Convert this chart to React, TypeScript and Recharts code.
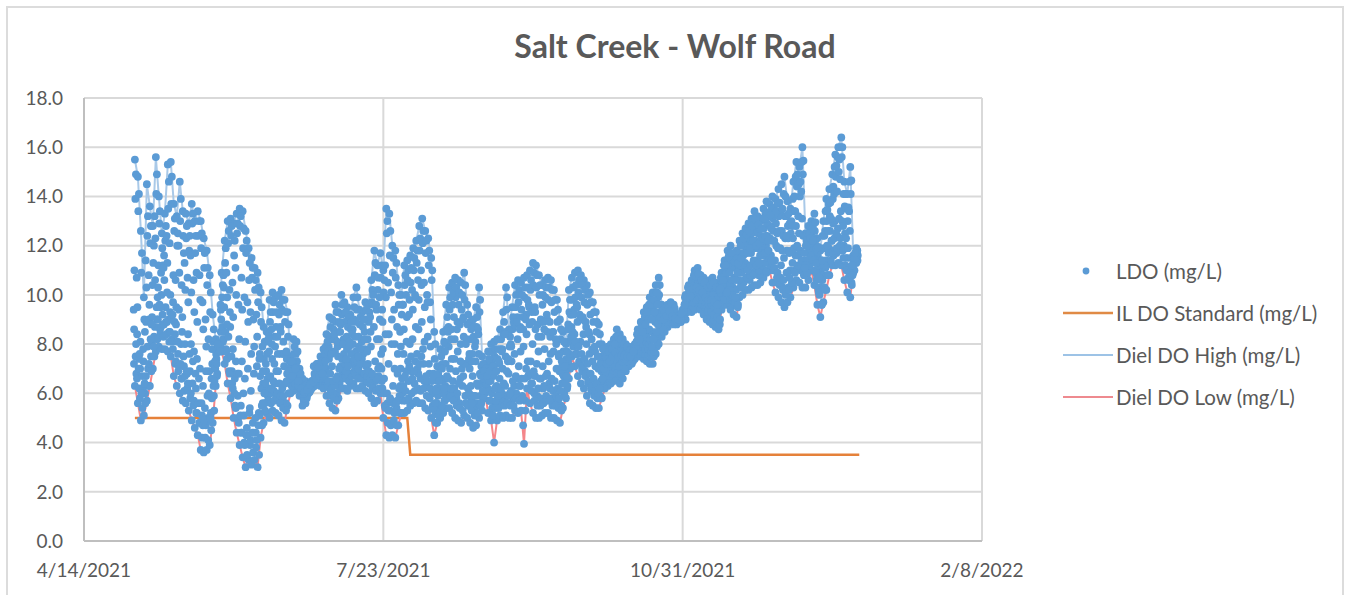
import { ComposedChart, CartesianGrid, Line, Scatter, XAxis, YAxis } from 'recharts'

const TITLE = 'Salt Creek - Wolf Road'
const FONT = 'Lato, sans-serif'
const GREY = '#595959'

// x axis is days since 4/14/2021
const xTicks = [0, 100, 200, 300]
const xLabels = ['4/14/2021', '7/23/2021', '10/31/2021', '2/8/2022']
const yTicks = [0, 2, 4, 6, 8, 10, 12, 14, 16, 18]

const firstDay = 17

const dielHigh = [
  15.5, 14.8, 12.6, 9.9, 14.5, 13.6, 12.8, 15.6, 14.0, 12.5,
  13.3, 15.3, 15.4, 13.7, 13.2, 14.6, 13.4, 13.3, 12.9, 13.7,
  13.0, 13.4, 13.0, 12.3, 11.8, 10.8, 9.2, 8.2, 8.0, 10.9,
  12.2, 13.0, 13.1, 12.9, 13.3, 13.5, 13.4, 12.6, 11.9, 11.5,
  11.1, 10.9, 10.1, 8.7, 8.5, 9.8, 10.1, 9.9, 10.0, 10.2,
  9.8, 9.3, 7.5, 8.2, 8.1, 7.0, 6.6, 6.5, 6.4, 6.5,
  6.8, 7.2, 7.5, 7.8, 8.4, 9.1, 9.0, 9.6, 9.3, 10.0,
  9.7, 9.5, 9.2, 9.9, 10.3, 9.4, 9.3, 9.7, 9.6, 10.6,
  11.8, 11.2, 11.7, 11.0, 13.5, 13.3, 12.0, 11.8, 10.4, 10.0,
  11.2, 11.4, 11.6, 11.9, 12.2, 12.8, 13.1, 12.6, 12.3, 11.5,
  8.5, 7.1, 7.8, 8.5, 9.6, 10.3, 10.5, 10.7, 10.6, 10.5,
  10.9, 9.6, 8.9, 9.0, 9.5, 10.3, 7.5, 7.2, 7.7, 8.0,
  8.1, 8.2, 8.6, 9.3, 10.3, 8.6, 9.5, 10.4, 10.6, 10.5,
  10.7, 10.8, 11.0, 11.3, 11.2, 10.8, 10.4, 10.6, 10.7, 10.6,
  10.2, 9.8, 9.0, 8.5, 8.0, 10.2, 10.7, 10.9, 11.0, 10.8,
  10.6, 10.4, 10.1, 9.7, 9.3, 8.8, 8.0, 7.6, 7.9, 8.0,
  8.2, 8.6, 8.4, 8.2, 8.0, 7.9, 7.8, 8.0, 8.6, 8.9,
  9.3, 9.5, 9.9, 10.1, 10.4, 10.7, 9.6, 9.5, 9.6, 9.7,
  9.6, 9.2, 9.0, 9.4, 10.0, 10.4, 10.6, 11.0, 11.1, 10.8,
  10.7, 10.5, 10.6, 10.7, 10.5, 10.4, 10.9, 11.4, 11.8, 12.0,
  11.6, 11.8, 12.2, 12.5, 12.7, 12.9, 13.1, 13.4, 13.2, 13.0,
  13.5, 13.8, 13.7, 14.0, 13.9, 14.3, 14.5, 14.8, 13.8, 13.5,
  14.6, 15.4, 15.2, 16.0, 12.5, 12.8, 13.0, 13.3, 12.3, 11.8,
  13.0, 13.9, 14.3, 14.9, 15.7, 16.0, 16.4, 14.6, 14.1, 15.2,
  11.6, 11.9,
]

const dielLow = [
  6.3, 5.6, 4.9, 5.1, 5.7, 6.3, 7.0, 7.7, 7.9, 7.8,
  7.8, 7.7, 7.5, 6.7, 6.3, 6.0, 5.7, 5.6, 5.3, 4.9,
  4.6, 4.3, 3.7, 3.6, 3.7, 3.9, 4.8, 6.3, 7.8, 7.7,
  7.2, 6.4, 5.8, 5.0, 4.4, 3.9, 3.4, 3.0, 3.3, 3.1,
  3.3, 3.0, 4.2, 4.8, 5.2, 5.0, 5.3, 5.2, 5.1, 4.9,
  4.8, 5.5, 6.0, 6.1, 6.2, 5.9, 5.5, 5.6, 6.0, 6.2,
  6.3, 6.4, 6.3, 6.2, 5.9, 5.6, 5.4, 5.3, 5.8, 6.2,
  6.2, 6.1, 6.3, 6.4, 6.2, 6.2, 6.3, 6.1, 6.0, 5.8,
  5.6, 5.7, 6.0, 5.0, 4.3, 4.2, 4.3, 4.2, 4.7, 5.2,
  5.2, 5.3, 5.5, 5.6, 5.7, 5.6, 5.6, 5.4, 5.3, 5.0,
  4.3, 4.8, 5.0, 5.2, 5.4, 5.4, 5.2, 5.0, 4.9, 4.8,
  5.1, 5.0, 4.8, 4.6, 4.7, 5.0, 5.3, 6.0, 5.2, 4.9,
  4.0, 4.9, 5.1, 5.0, 5.1, 5.0, 5.0, 5.3, 5.2, 5.3,
  3.95, 6.2, 5.6, 5.2, 5.0, 5.0, 5.1, 5.2, 5.2, 5.0,
  5.0, 4.9, 4.8, 5.4, 5.8, 6.6, 7.5, 7.1, 6.7, 6.4,
  6.2, 5.9, 5.6, 5.5, 5.4, 5.4, 5.8, 6.2, 6.3, 6.4,
  6.5, 6.6, 6.4, 6.6, 6.9, 7.1, 7.2, 7.4, 7.5, 7.5,
  7.4, 7.3, 7.2, 7.2, 7.6, 8.0, 8.3, 8.5, 8.7, 9.0,
  8.8, 8.8, 8.9, 9.1, 9.0, 9.4, 9.3, 9.4, 9.5, 9.4,
  9.2, 9.0, 8.9, 8.8, 8.7, 8.6, 9.4, 9.6, 9.6, 9.4,
  9.2, 9.1, 9.9, 10.0, 10.2, 10.2, 10.3, 10.4, 10.4, 10.5,
  10.7, 10.9, 11.0, 10.5, 10.1, 9.9, 9.7, 9.5, 9.7, 9.9,
  10.3, 10.6, 10.5, 10.3, 10.3, 10.6, 11.0, 10.4, 9.6, 9.1,
  9.7, 10.2, 10.8, 11.2, 11.2, 11.3, 11.2, 10.6, 10.1, 9.9,
  10.9, 11.3,
]

const ldoUpper = [
  13.9, 13.4, 10.9, 9.0, 12.4, 12.1, 11.3, 14.1, 12.9, 11.9,
  12.2, 13.5, 13.7, 12.6, 12.0, 13.0, 12.4, 12.3, 11.8, 12.9,
  11.7, 12.4, 11.9, 11.1, 10.4, 9.3, 8.1, 7.6, 7.9, 9.9,
  11.3, 12.1, 12.4, 11.6, 12.5, 12.8, 11.9, 11.7, 10.6, 10.7,
  10.2, 9.7, 8.9, 7.4, 7.6, 8.9, 9.3, 8.7, 9.2, 9.4,
  8.9, 8.3, 7.1, 7.6, 7.3, 6.6, 6.3, 6.2, 6.2, 6.4,
  6.6, 6.9, 7.1, 7.3, 7.7, 8.3, 8.2, 8.9, 8.5, 9.2,
  8.9, 8.7, 8.6, 9.0, 9.4, 8.8, 8.7, 9.0, 8.9, 9.7,
  10.8, 10.2, 10.7, 10.1, 12.5, 11.6, 10.9, 10.7, 9.6, 9.2,
  10.4, 10.6, 10.5, 11.0, 11.3, 11.8, 12.1, 11.7, 11.2, 10.6,
  7.4, 6.5, 7.1, 7.7, 8.6, 9.4, 9.6, 9.9, 9.6, 9.4,
  9.8, 8.8, 8.2, 8.3, 8.7, 9.3, 6.9, 6.7, 7.1, 7.3,
  7.5, 7.4, 7.8, 8.4, 9.4, 7.9, 8.6, 9.5, 9.7, 9.4,
  9.9, 9.8, 10.2, 10.4, 10.3, 10.0, 9.6, 9.9, 9.8, 9.7,
  9.3, 8.9, 8.2, 7.7, 7.4, 9.3, 9.8, 9.9, 10.1, 9.9,
  9.7, 9.6, 9.2, 8.9, 8.5, 8.0, 7.5, 7.2, 7.4, 7.5,
  7.7, 8.0, 7.9, 7.8, 7.7, 7.6, 7.6, 7.8, 8.2, 8.4,
  8.8, 9.0, 9.3, 9.4, 9.7, 10.0, 9.3, 9.2, 9.3, 9.4,
  9.3, 9.1, 9.0, 9.3, 9.7, 10.0, 10.1, 10.5, 10.6, 10.4,
  10.3, 10.1, 10.2, 10.3, 10.1, 10.0, 10.5, 11.0, 11.3, 11.4,
  11.1, 11.2, 11.7, 12.0, 12.2, 12.3, 12.5, 12.7, 12.5, 12.4,
  12.7, 12.9, 12.8, 13.1, 12.9, 13.2, 12.6, 13.2, 12.8, 12.5,
  13.4, 14.4, 14.0, 14.9, 12.0, 12.2, 12.4, 12.6, 11.6, 11.0,
  11.9, 13.0, 13.2, 13.9, 14.8, 15.0, 15.6, 13.6, 13.0, 14.1,
  11.3, 11.7,
]

const ldoMiddle = [
  11.0, 9.5, 8.1, 7.3, 10.3, 9.6, 10.4, 12.3, 11.2, 10.0,
  10.6, 11.3, 10.0, 10.8, 9.5, 10.9, 9.1, 10.2, 9.7, 10.1,
  9.3, 8.9, 9.8, 8.6, 7.9, 6.9, 7.2, 7.0, 7.9, 9.0,
  9.5, 9.9, 8.7, 9.1, 10.0, 8.2, 9.4, 8.1, 8.9, 7.6,
  7.9, 8.3, 6.7, 6.4, 6.9, 7.7, 7.4, 7.9, 6.9, 7.6,
  7.1, 6.8, 6.7, 7.0, 6.8, 6.4, 6.0, 5.9, 6.1, 6.3,
  6.5, 6.7, 6.8, 6.9, 7.0, 7.4, 7.1, 7.7, 7.5, 8.0,
  7.6, 7.8, 7.3, 8.0, 7.7, 7.9, 7.4, 7.8, 7.2, 7.9,
  8.7, 8.2, 9.0, 7.8, 9.9, 8.4, 9.0, 8.0, 7.6, 7.9,
  8.6, 9.1, 8.0, 9.4, 8.7, 9.8, 8.9, 9.5, 8.3, 9.0,
  6.1, 5.6, 6.0, 6.5, 7.2, 7.9, 7.4, 8.2, 7.7, 8.0,
  8.3, 7.2, 7.0, 6.7, 7.3, 7.6, 6.4, 6.5, 6.2, 6.5,
  6.7, 6.3, 6.6, 7.0, 7.5, 6.8, 7.3, 7.6, 8.2, 7.7,
  7.9, 8.4, 8.8, 8.0, 8.6, 7.7, 8.3, 7.8, 8.5, 7.6,
  7.7, 7.0, 6.9, 6.8, 6.9, 8.1, 8.7, 8.4, 8.9, 8.1,
  8.4, 8.0, 7.6, 7.3, 7.1, 7.0, 6.9, 6.8, 6.9, 7.1,
  7.2, 7.3, 7.2, 7.3, 7.4, 7.4, 7.4, 7.6, 7.9, 8.0,
  8.2, 8.4, 8.6, 8.5, 8.9, 9.1, 8.9, 8.9, 9.0, 9.2,
  9.0, 8.95, 8.95, 9.2, 9.5, 9.7, 9.8, 10.0, 10.1, 10.0,
  9.9, 9.6, 9.5, 9.5, 9.4, 9.3, 10.0, 10.3, 10.6, 10.5,
  10.3, 10.2, 10.9, 11.1, 11.3, 11.2, 11.7, 11.9, 11.4, 11.6,
  11.8, 12.0, 11.6, 12.2, 11.4, 11.9, 11.2, 11.5, 11.8, 11.0,
  12.3, 12.8, 12.5, 13.1, 11.4, 11.7, 11.8, 11.7, 10.8, 10.3,
  10.8, 11.4, 11.9, 12.2, 13.0, 12.7, 13.4, 12.0, 11.5, 12.6,
  11.1, 11.6,
]

const ldoLower = [
  8.0, 7.4, 6.2, 6.0, 7.0, 7.5, 8.3, 9.0, 8.6, 8.8,
  8.9, 8.5, 8.2, 8.4, 7.6, 8.0, 7.1, 6.8, 6.9, 7.3,
  6.2, 6.6, 5.1, 5.4, 5.0, 5.2, 5.9, 6.7, 7.8, 8.1,
  7.8, 7.5, 6.9, 6.6, 5.9, 5.5, 5.1, 4.6, 5.4, 4.8,
  4.4, 5.2, 5.5, 5.6, 5.9, 6.0, 6.1, 5.9, 6.0, 5.7,
  5.6, 6.0, 6.3, 6.5, 6.5, 6.1, 5.7, 5.8, 6.05, 6.25,
  6.35, 6.5, 6.5, 6.5, 6.4, 6.1, 5.9, 6.0, 6.4, 6.8,
  6.7, 6.6, 6.8, 6.9, 6.7, 6.8, 6.7, 6.5, 6.4, 6.3,
  6.5, 6.7, 7.0, 6.0, 5.6, 5.3, 5.6, 5.4, 5.9, 6.0,
  6.1, 6.5, 6.9, 6.4, 7.0, 6.6, 7.2, 6.3, 6.8, 6.0,
  5.2, 5.1, 5.5, 5.7, 6.0, 6.2, 6.0, 5.8, 5.6, 6.3,
  5.9, 5.5, 5.7, 5.4, 5.6, 5.9, 5.8, 6.2, 5.7, 5.4,
  5.5, 5.5, 5.8, 5.7, 5.9, 5.6, 5.8, 6.0, 6.3, 5.9,
  5.7, 6.7, 6.4, 6.0, 5.9, 5.8, 6.2, 5.9, 6.4, 5.8,
  5.7, 5.6, 5.5, 6.0, 6.2, 7.0, 7.9, 7.6, 7.3, 7.0,
  6.9, 6.5, 6.2, 6.0, 5.9, 5.9, 6.3, 6.5, 6.6, 6.7,
  6.8, 6.9, 6.8, 6.9, 7.1, 7.2, 7.3, 7.5, 7.6, 7.7,
  7.6, 7.6, 7.5, 7.5, 7.9, 8.4, 8.5, 8.7, 8.9, 9.1,
  8.9, 8.9, 8.9, 9.15, 9.3, 9.5, 9.5, 9.7, 9.7, 9.6,
  9.5, 9.3, 9.1, 9.0, 8.9, 8.8, 9.6, 9.8, 9.9, 9.8,
  9.6, 9.5, 10.3, 10.5, 10.7, 10.6, 10.8, 10.9, 10.8, 11.0,
  11.0, 11.3, 11.2, 11.0, 10.5, 10.4, 10.3, 10.0, 10.3, 10.4,
  11.0, 11.1, 11.0, 10.9, 10.8, 11.0, 11.4, 11.0, 10.2, 9.6,
  10.3, 10.8, 11.3, 11.6, 11.7, 11.8, 11.9, 11.2, 10.7, 10.5,
  11.0, 11.4,
]

const ldoNearLow = [
  6.8, 6.2, 5.4, 5.6, 6.3, 6.9, 7.5, 8.2, 8.4, 8.3,
  8.4, 8.1, 8.1, 7.2, 6.9, 6.6, 6.1, 6.2, 5.8, 5.5,
  5.2, 4.8, 4.2, 4.2, 4.1, 4.5, 5.3, 6.8, 7.9, 8.2,
  7.7, 6.9, 6.4, 5.5, 5.0, 4.4, 4.0, 3.5, 3.9, 3.6,
  3.8, 3.5, 4.7, 5.3, 5.7, 5.6, 5.7, 5.8, 5.6, 5.4,
  5.3, 6.0, 6.4, 6.4, 6.5, 6.2, 5.8, 5.9, 6.2, 6.3,
  6.5, 6.6, 6.6, 6.6, 6.3, 5.9, 5.8, 5.7, 6.2, 6.6,
  6.6, 6.5, 6.7, 6.8, 6.6, 6.6, 6.8, 6.5, 6.4, 6.2,
  6.1, 6.2, 6.5, 5.5, 4.8, 4.7, 4.9, 4.7, 5.2, 5.7,
  5.7, 5.8, 6.0, 6.1, 6.2, 6.1, 6.2, 5.9, 5.8, 5.5,
  4.8, 5.3, 5.5, 5.7, 5.8, 5.9, 5.7, 5.5, 5.4, 5.3,
  5.6, 5.5, 5.3, 5.1, 5.2, 5.5, 5.8, 6.4, 5.7, 5.4,
  5.4, 5.4, 5.6, 5.5, 5.6, 5.5, 5.5, 5.8, 5.7, 5.8,
  5.3, 6.7, 6.1, 5.7, 5.5, 5.5, 5.6, 5.7, 5.7, 5.5,
  5.5, 5.4, 5.3, 5.9, 6.3, 7.1, 8.0, 7.6, 7.2, 6.9,
  6.7, 6.4, 6.1, 5.9, 5.8, 5.8, 6.2, 6.6, 6.7, 6.8,
  6.9, 7.0, 6.8, 7.0, 7.3, 7.5, 7.6, 7.8, 7.9, 7.9,
  7.8, 7.8, 7.7, 7.7, 8.1, 8.6, 8.7, 8.9, 9.1, 9.3,
  9.1, 9.0, 8.95, 9.3, 9.3, 9.8, 9.7, 9.8, 9.9, 9.8,
  9.6, 9.4, 9.3, 9.2, 9.1, 9.0, 9.8, 10.1, 10.2, 9.9,
  9.7, 9.6, 10.4, 10.6, 10.7, 10.8, 10.9, 11.1, 11.0, 11.2,
  11.3, 11.5, 11.6, 11.0, 10.7, 10.5, 10.2, 10.1, 10.2, 10.5,
  10.9, 11.2, 11.2, 10.8, 10.9, 11.2, 11.5, 10.9, 10.1, 9.6,
  10.2, 10.8, 11.4, 11.8, 11.9, 12.0, 11.8, 11.1, 10.6, 10.4,
  11.3, 11.6,
]

const ldoBase = [
  7.2, 6.6, 5.8, 6.1, 6.7, 7.2, 8.1, 8.7, 9.0, 8.7,
  8.8, 8.9, 8.5, 7.8, 7.3, 7.1, 6.6, 6.7, 6.4, 6.0,
  5.7, 5.2, 4.8, 4.7, 4.7, 4.9, 5.8, 7.1, 7.85, 8.5,
  8.2, 7.4, 6.8, 6.2, 5.4, 4.8, 4.4, 3.9, 4.3, 4.1,
  4.4, 4.1, 5.1, 5.6, 6.1, 6.2, 6.2, 6.4, 6.0, 5.9,
  5.9, 6.5, 6.6, 6.9, 7.2, 6.3, 6.0, 6.0, 6.15, 6.25,
  6.55, 6.7, 6.8, 6.9, 6.9, 6.5, 6.2, 6.3, 6.7, 7.1,
  7.0, 6.9, 7.2, 7.2, 7.0, 7.0, 7.2, 6.8, 6.7, 6.6,
  6.7, 6.6, 7.1, 6.2, 5.4, 5.3, 5.7, 5.2, 5.7, 6.3,
  6.3, 6.9, 7.1, 6.6, 7.3, 6.8, 7.5, 6.5, 6.5, 6.2,
  5.4, 5.6, 6.2, 6.0, 6.3, 6.6, 6.2, 6.2, 6.0, 6.6,
  6.7, 5.9, 6.0, 5.6, 5.9, 6.3, 5.6, 6.6, 6.1, 5.7,
  5.1, 5.7, 6.0, 6.0, 6.3, 5.9, 6.1, 6.3, 6.6, 6.3,
  4.7, 7.0, 6.8, 6.4, 6.7, 6.2, 6.6, 6.3, 6.8, 6.2,
  6.1, 5.9, 5.8, 6.4, 6.5, 7.3, 8.3, 7.9, 7.6, 7.3,
  7.1, 6.8, 6.5, 6.3, 6.1, 6.0, 6.5, 6.8, 6.9, 7.0,
  7.1, 7.3, 7.1, 7.3, 7.4, 7.6, 7.7, 7.9, 8.1, 8.1,
  8.0, 8.1, 8.0, 7.9, 8.3, 8.8, 9.0, 9.1, 9.2, 9.4,
  9.2, 9.0, 9.0, 9.3, 9.6, 9.9, 10.0, 10.1, 10.2, 10.1,
  9.9, 9.7, 9.6, 9.6, 9.5, 9.4, 10.2, 10.4, 10.4, 10.2,
  10.0, 9.9, 10.6, 10.9, 11.1, 11.0, 11.2, 11.4, 11.2, 11.3,
  11.6, 11.7, 11.8, 11.4, 11.1, 10.9, 10.7, 10.6, 10.9, 10.7,
  11.3, 11.6, 11.6, 11.4, 11.2, 11.4, 11.6, 11.4, 10.6, 10.0,
  10.6, 11.1, 11.7, 12.2, 12.3, 12.4, 12.3, 11.5, 11.0, 10.9,
  11.2, 11.5,
]

const ldoLowMid = [
  7.5, 7.0, 6.0, 6.4, 7.9, 8.2, 7.9, 9.5, 9.6, 9.2,
  9.5, 9.0, 9.1, 8.9, 8.1, 7.2, 7.5, 6.9, 7.6, 6.4,
  6.8, 5.6, 5.6, 4.9, 5.9, 5.0, 6.3, 7.4, 7.95, 8.7,
  8.5, 8.3, 7.5, 6.0, 6.8, 5.1, 6.0, 4.3, 5.2, 4.4,
  5.0, 4.7, 6.2, 6.0, 6.6, 6.7, 6.5, 6.9, 6.4, 6.2,
  6.4, 7.0, 6.9, 6.8, 6.9, 6.6, 6.15, 6.1, 6.3, 6.4,
  6.7, 6.8, 6.9, 7.1, 7.4, 6.8, 6.5, 6.6, 7.0, 7.4,
  7.2, 7.1, 7.6, 7.4, 7.3, 7.2, 7.6, 7.1, 6.9, 6.8,
  7.3, 7.0, 7.6, 6.6, 6.0, 5.8, 6.3, 5.6, 6.2, 6.6,
  6.7, 7.3, 7.5, 6.9, 7.6, 7.2, 7.8, 6.7, 7.2, 6.5,
  5.6, 5.9, 6.6, 6.2, 6.7, 7.0, 6.5, 6.9, 6.4, 7.0,
  7.2, 6.2, 6.3, 5.9, 6.4, 6.8, 6.1, 6.8, 6.5, 6.0,
  6.2, 5.9, 6.2, 6.4, 6.9, 6.0, 6.5, 6.7, 7.1, 6.6,
  6.6, 7.3, 7.3, 6.9, 7.2, 6.6, 7.1, 6.7, 7.3, 6.6,
  6.5, 6.2, 6.1, 6.7, 6.7, 7.6, 8.5, 8.1, 7.9, 7.6,
  7.4, 7.2, 6.8, 6.6, 6.4, 6.2, 6.6, 6.9, 7.1, 7.2,
  7.4, 7.6, 7.5, 7.6, 7.6, 7.7, 7.7, 8.0, 8.3, 8.3,
  8.3, 8.6, 8.2, 8.2, 8.5, 9.3, 9.2, 9.2, 9.4, 9.5,
  9.4, 9.1, 9.0, 9.3, 9.8, 10.2, 10.3, 10.4, 10.5, 10.3,
  10.2, 10.0, 9.8, 10.0, 9.8, 9.6, 10.4, 10.7, 11.0, 11.1,
  10.7, 10.9, 11.2, 11.6, 11.8, 12.0, 12.1, 12.2, 11.9, 12.0,
  12.2, 12.4, 12.3, 12.6, 12.0, 12.6, 11.8, 12.3, 12.3, 11.8,
  11.9, 12.0, 11.8, 12.4, 11.2, 11.9, 12.1, 12.2, 11.2, 10.6,
  11.2, 12.0, 12.6, 12.9, 12.5, 13.1, 13.0, 12.5, 11.9, 11.5,
  11.5, 11.8,
]

const ldoBand = [
  8.6, 8.4, 7.0, 7.8, 8.9, 9.0, 9.1, 10.6, 10.3, 10.9,
  11.6, 10.1, 9.3, 9.7, 8.8, 9.4, 8.5, 8.0, 8.4, 8.0,
  7.7, 7.4, 7.0, 6.3, 6.9, 6.0, 7.8, 7.3, 7.9, 9.4,
  10.3, 8.8, 9.3, 7.8, 7.3, 6.8, 7.3, 6.6, 7.0, 6.1,
  6.8, 7.1, 7.6, 6.9, 7.2, 8.4, 8.0, 8.3, 7.6, 8.5,
  7.6, 7.4, 7.3, 7.3, 7.6, 6.8, 6.45, 6.35, 6.25, 6.15,
  7.1, 7.2, 6.6, 7.5, 7.9, 7.9, 7.7, 8.2, 7.9, 8.8,
  8.2, 8.3, 8.1, 8.6, 8.9, 8.3, 8.1, 8.5, 8.2, 8.5,
  9.6, 9.4, 9.9, 8.9, 8.4, 7.2, 8.0, 7.0, 6.8, 7.0,
  7.6, 8.1, 9.8, 8.2, 9.9, 8.6, 10.4, 8.1, 9.7, 7.9,
  6.8, 6.2, 6.6, 7.2, 8.0, 8.7, 8.6, 7.4, 8.9, 7.3,
  9.1, 8.2, 7.6, 7.6, 8.1, 8.4, 7.1, 6.9, 6.9, 7.0,
  7.1, 6.9, 7.2, 7.8, 8.5, 7.4, 7.9, 8.8, 9.1, 8.7,
  8.6, 9.2, 9.5, 8.9, 9.3, 8.3, 8.9, 8.6, 9.0, 8.3,
  8.5, 8.0, 7.6, 7.1, 7.2, 8.8, 9.2, 9.4, 9.5, 9.0,
  9.0, 8.7, 8.4, 7.8, 7.7, 7.5, 7.3, 7.4, 7.6, 7.8,
  7.9, 8.3, 7.7, 8.0, 7.5, 7.8, 7.5, 7.7, 8.4, 8.6,
  8.6, 9.2, 9.6, 9.6, 9.2, 9.9, 9.2, 9.3, 9.5, 9.55,
  9.5, 9.2, 9.2, 9.0, 9.9, 10.3, 10.0, 10.8, 10.9, 10.6,
  10.5, 10.3, 10.4, 10.5, 10.3, 10.2, 10.7, 11.2, 10.1, 11.7,
  11.3, 11.5, 11.5, 12.2, 12.0, 12.6, 12.9, 13.1, 12.8, 12.7,
  13.1, 13.3, 13.2, 13.5, 13.3, 13.7, 13.4, 14.1, 13.2, 12.9,
  13.9, 14.8, 14.5, 15.4, 11.1, 12.5, 12.7, 12.9, 11.9, 11.4,
  12.4, 13.4, 13.7, 14.3, 15.2, 15.6, 16.0, 14.1, 13.5, 14.6,
  10.8, 11.5,
]

const ldoTop = [
  14.9, 14.1, 11.7, 8.5, 13.2, 12.8, 12.0, 14.9, 13.4, 11.2,
  12.8, 14.6, 14.8, 13.1, 12.5, 13.9, 11.7, 12.8, 12.4, 13.3,
  12.4, 13.0, 12.5, 11.7, 11.1, 10.1, 8.6, 7.2, 7.7, 10.4,
  11.9, 12.6, 12.8, 12.2, 12.9, 13.2, 12.7, 12.2, 11.3, 11.1,
  10.6, 10.3, 9.5, 8.1, 8.1, 9.3, 9.7, 9.3, 9.6, 9.8,
  9.3, 8.8, 7.3, 7.9, 7.7, 6.8, 6.5, 6.35, 6.3, 6.45,
  6.75, 7.05, 7.3, 7.6, 8.1, 8.7, 8.6, 9.3, 8.9, 9.6,
  9.3, 9.1, 8.9, 9.5, 9.9, 9.1, 9.0, 9.4, 9.3, 10.2,
  11.3, 10.7, 11.2, 10.6, 13.0, 12.6, 11.5, 11.3, 10.0, 9.6,
  10.8, 11.0, 11.1, 11.5, 11.8, 12.3, 12.6, 12.2, 11.8, 11.0,
  8.0, 6.8, 7.5, 8.1, 9.1, 9.9, 10.1, 10.3, 10.1, 10.0,
  10.4, 9.2, 8.6, 8.7, 9.1, 9.8, 7.2, 7.0, 7.4, 7.7,
  7.8, 7.8, 8.2, 8.9, 9.9, 8.3, 9.1, 10.0, 10.2, 10.0,
  10.3, 10.3, 10.6, 10.9, 10.8, 10.4, 10.0, 10.3, 10.3, 10.2,
  9.8, 9.4, 8.6, 8.1, 7.7, 9.8, 10.3, 10.4, 10.6, 10.4,
  10.2, 10.0, 9.7, 9.3, 8.9, 8.4, 7.8, 7.4, 7.7, 7.8,
  8.0, 8.3, 8.2, 8.0, 7.9, 7.75, 7.7, 7.9, 8.4, 8.7,
  9.1, 9.3, 9.6, 9.8, 10.1, 10.4, 9.45, 9.35, 9.5, 9.6,
  9.45, 9.15, 8.98, 9.35, 9.85, 10.2, 10.35, 10.75, 10.85, 10.6,
  10.5, 10.3, 10.4, 10.5, 10.3, 10.2, 10.7, 11.2, 11.55, 11.7,
  11.35, 11.5, 12.0, 12.3, 12.45, 12.6, 12.8, 13.05, 12.85, 12.7,
  13.1, 13.35, 13.25, 13.55, 13.4, 13.75, 13.5, 14.0, 13.3, 13.0,
  14.0, 14.9, 14.6, 15.45, 12.2, 12.5, 12.7, 12.95, 11.95, 11.4,
  12.4, 13.45, 13.75, 14.4, 15.25, 15.5, 16.0, 14.1, 13.55, 14.65,
  11.45, 11.8,
]

const ldoFill = [
  9.4, 10.7, 7.6, 6.7, 11.4, 10.8, 8.8, 13.2, 9.9, 9.5,
  11.1, 12.4, 12.1, 9.2, 10.6, 12.0, 10.4, 11.3, 10.7, 11.6,
  10.6, 10.9, 10.8, 9.7, 9.0, 8.2, 6.6, 6.5, 8.0, 9.6,
  10.8, 10.9, 10.2, 10.5, 11.1, 9.6, 10.7, 9.9, 9.7, 9.3,
  9.0, 9.2, 7.4, 7.9, 6.4, 8.2, 8.6, 7.2, 8.3, 8.7,
  8.1, 7.7, 6.9, 6.7, 7.0, 6.5, 6.2, 6.05, 6.15, 6.35,
  6.45, 6.6, 6.7, 6.8, 7.3, 7.7, 7.6, 8.4, 8.1, 8.5,
  8.0, 7.4, 7.9, 8.4, 8.3, 7.5, 7.8, 8.2, 7.7, 9.1,
  10.0, 9.6, 8.2, 9.4, 11.2, 10.5, 10.1, 9.4, 8.7, 8.5,
  9.6, 10.0, 9.2, 10.2, 10.0, 10.6, 11.0, 10.5, 10.0, 9.7,
  6.7, 6.1, 6.5, 7.0, 7.7, 8.5, 8.2, 9.1, 8.6, 8.8,
  9.0, 8.0, 7.4, 7.3, 7.9, 8.6, 6.7, 6.9, 6.7, 6.9,
  7.1, 6.9, 7.3, 7.7, 8.4, 7.3, 8.0, 8.9, 8.9, 8.6,
  9.1, 9.0, 9.6, 9.3, 9.5, 8.8, 9.0, 8.9, 9.2, 8.9,
  8.5, 8.2, 7.5, 7.3, 7.1, 8.6, 9.2, 9.2, 9.6, 9.2,
  9.1, 8.9, 8.5, 8.2, 7.9, 7.5, 7.2, 7.0, 7.2, 7.3,
  7.5, 7.65, 7.5, 7.55, 7.55, 7.5, 7.5, 7.7, 8.1, 8.2,
  8.5, 8.8, 9.0, 9.0, 9.3, 9.6, 9.1, 9.0, 9.15, 9.35,
  9.15, 9.05, 9.0, 9.25, 9.6, 9.9, 9.95, 10.25, 10.3, 10.2,
  10.1, 9.9, 9.8, 9.8, 9.7, 9.6, 10.25, 10.6, 10.9, 10.9,
  10.6, 10.6, 11.3, 11.5, 11.7, 11.7, 11.9, 12.2, 12.0, 12.1,
  12.3, 12.4, 12.2, 12.7, 12.2, 12.5, 11.9, 12.4, 12.4, 11.7,
  12.8, 13.4, 13.2, 14.2, 11.7, 12.0, 12.3, 12.2, 11.3, 10.7,
  11.4, 12.6, 12.6, 13.1, 14.1, 14.2, 14.7, 12.8, 12.3, 13.4,
  11.2, 11.7,
]

const standardDays = [17, 108, 109, 259]
const standardValues = [5.0, 5.0, 3.5, 3.5]

// offset: readings fall at different hours of the day
const toDaily = (values: number[], offset = 0) =>
  values.map((value, i) => ({ day: firstDay + i + offset, value }))

const highData = toDaily(dielHigh)
const lowData = toDaily(dielLow)
const standardData = standardDays.map((day, i) => ({ day, value: standardValues[i] }))
const ldoData = [
  ...toDaily(dielHigh),
  ...toDaily(dielLow),
  ...toDaily(ldoUpper, 0.15),
  ...toDaily(ldoMiddle, -0.15),
  ...toDaily(ldoLower, 0.4),
  ...toDaily(ldoNearLow, 0.5),
  ...toDaily(ldoBase, -0.3),
  ...toDaily(ldoLowMid, 0.25),
  ...toDaily(ldoBand, -0.25),
  ...toDaily(ldoTop, 0.35),
  ...toDaily(ldoFill, -0.4),
]

const legendItems = [
  { name: 'LDO (mg/L)', color: '#5b9bd5', dot: true, width: 0 },
  { name: 'IL DO Standard (mg/L)', color: '#e08a45', dot: false, width: 2.5 },
  { name: 'Diel DO High (mg/L)', color: '#9dc3e6', dot: false, width: 2 },
  { name: 'Diel DO Low (mg/L)', color: '#ee8a8f', dot: false, width: 2 },
]

const LdoDot = (props: any) => <circle cx={props.cx} cy={props.cy} r={3.9} fill="#5b9bd5" />

function ChartLegend() {
  return (
    <div style={{ position: 'absolute', left: 1063, top: 250 }}>
      {legendItems.map(item => (
        <div key={item.name} style={{ display: 'flex', alignItems: 'center', height: 42 }}>
          <svg width={50} height={10} style={{ marginRight: 3 }}>
            {item.dot
              ? <circle cx={23} cy={5} r={3.4} fill={item.color} />
              : <line x1={0} x2={50} y1={5} y2={5} stroke={item.color} strokeWidth={item.width} />}
          </svg>
          <span style={{ fontFamily: FONT, fontSize: 20.5, color: GREY, whiteSpace: 'nowrap' }}>{item.name}</span>
        </div>
      ))}
    </div>
  )
}

export default function App() {
  const tick = { fontSize: 19, fill: GREY, fontFamily: FONT }
  return (
    <div style={{ position: 'absolute', left: 0, top: 0, width: 1348, height: 595, background: '#fff', overflow: 'hidden' }}>
      <div style={{ position: 'absolute', left: 6, top: 6, width: 1334, height: 590, border: '2px solid #dcdcdc', borderBottom: 'none' }} />
      <div style={{ position: 'absolute', left: 0, width: 1350, top: 26, textAlign: 'center', fontFamily: FONT, fontWeight: 700, fontSize: 32, lineHeight: '40px', color: GREY }}>
        {TITLE}
      </div>
      <ComposedChart
        width={1348}
        height={595}
        margin={{ top: 98, right: 366, bottom: 14, left: 24 }}
        style={{ position: 'absolute', left: 0, top: 0 }}
      >
        <CartesianGrid stroke="#d9d9d9" strokeWidth={2} />
        <XAxis
          type="number"
          dataKey="day"
          domain={[0, 300]}
          ticks={xTicks}
          interval={0}
          height={40}
          tickLine={false}
          tickMargin={17}
          tick={tick}
          stroke="#bfbfbf"
          strokeWidth={2}
          tickFormatter={(v: number) => xLabels[xTicks.indexOf(v)]}
        />
        <YAxis
          type="number"
          dataKey="value"
          domain={[0, 18]}
          ticks={yTicks}
          interval={0}
          width={60}
          tickLine={false}
          tickMargin={15}
          tick={tick}
          stroke="#bfbfbf"
          strokeWidth={2}
          tickFormatter={(v: number) => v.toFixed(1)}
        />
        <Line data={standardData} dataKey="value" type="linear" stroke="#e5813a" strokeWidth={2.5} dot={false} isAnimationActive={false} />
        <Line data={highData} dataKey="value" type="linear" stroke="#a9c9e8" strokeWidth={2} dot={false} isAnimationActive={false} />
        <Line data={lowData} dataKey="value" type="linear" stroke="#f4868a" strokeWidth={2} dot={false} isAnimationActive={false} />
        <Scatter data={ldoData} dataKey="value" fill="#5b9bd5" shape={LdoDot} isAnimationActive={false} />
      </ComposedChart>
      <ChartLegend />
    </div>
  )
}
